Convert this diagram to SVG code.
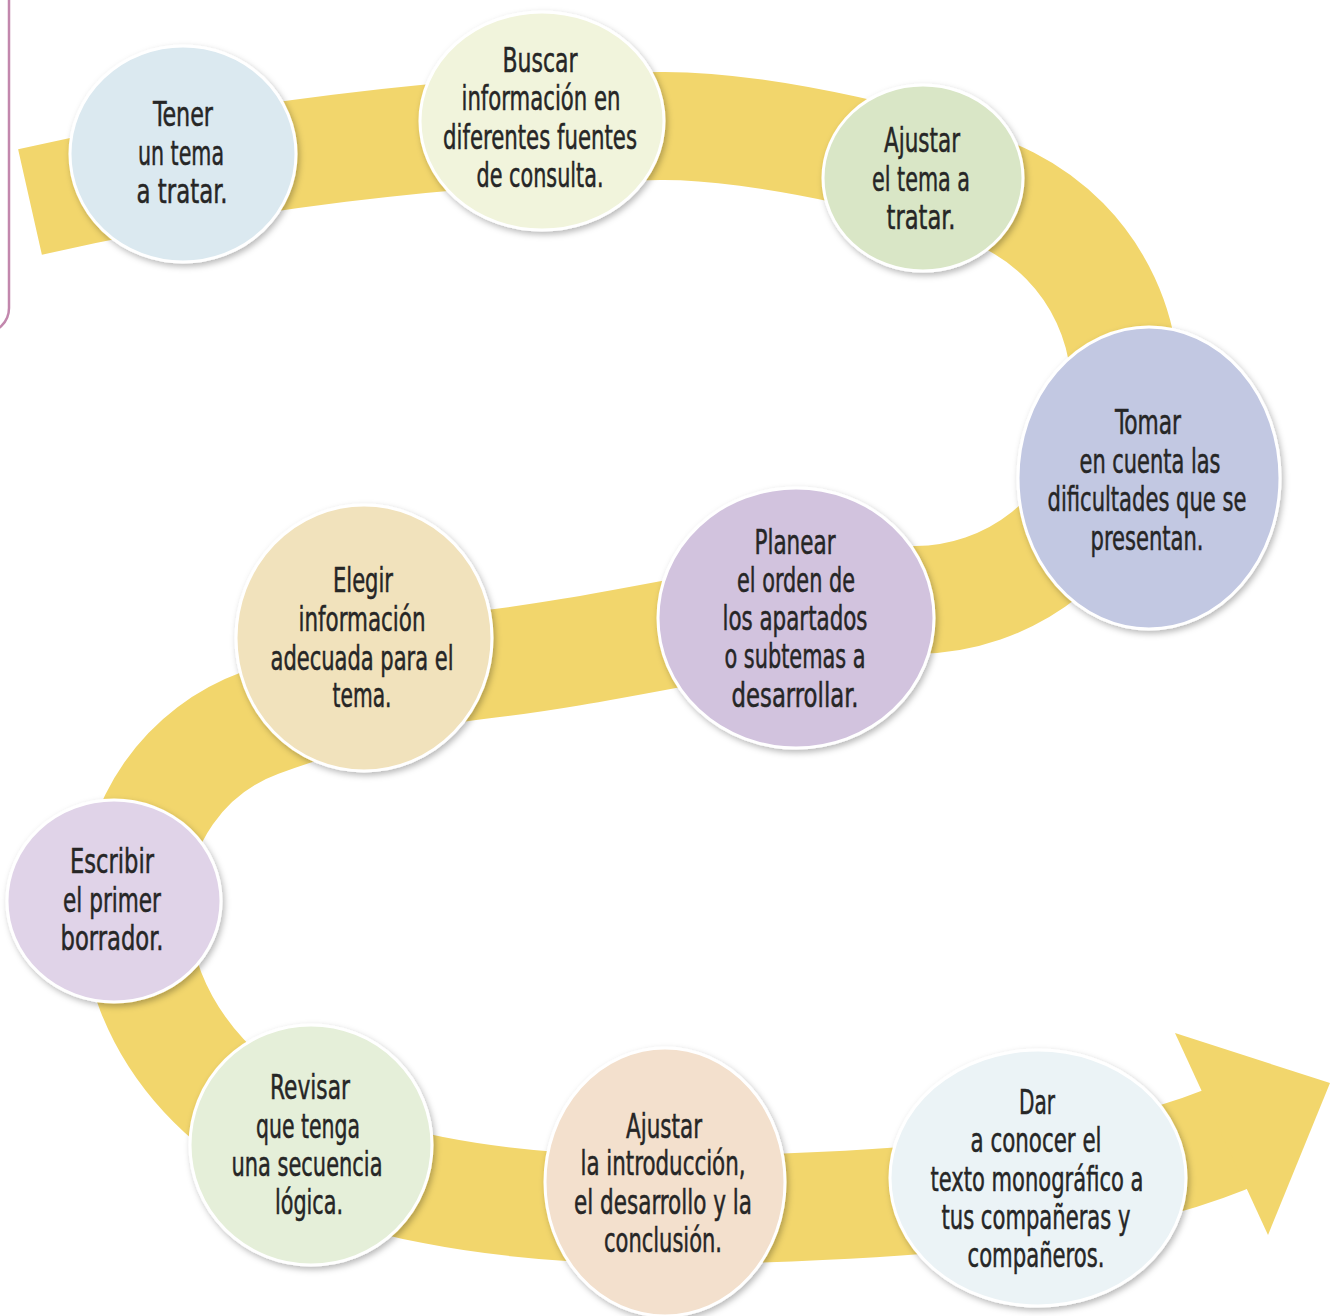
<svg xmlns="http://www.w3.org/2000/svg" width="1335" height="1316" viewBox="0 0 1335 1316">
<defs>
<filter id="sh" x="-20%" y="-20%" width="140%" height="140%">
<feDropShadow dx="2" dy="3" stdDeviation="3" flood-color="#000" flood-opacity="0.28"/>
</filter>
<style>
.band{fill:none;stroke:#f2d66c;stroke-width:108;stroke-linecap:butt;stroke-linejoin:round}
.arrow{fill:#f2d66c}
.frame{fill:none;stroke:#c287ad;stroke-width:2.5}
.node ellipse{stroke:#ffffff;stroke-width:3;filter:url(#sh)}
.node text{font-family:"DejaVu Sans Condensed","DejaVu Sans",sans-serif;font-stretch:condensed;font-size:34px;fill:#262626;stroke:#262626;stroke-width:0.5;text-anchor:middle}
</style>
</defs>
<rect width="1335" height="1316" fill="#ffffff"/>
<path class="frame" d="M9,0 V308 A25,25 0 0 1 -16,333"/>
<g id="connectors">
<path class="band" d="M30,202 C225,158 450,128 660,126 C760,125 938,165 1010,201 A211,211 0 0 1 916,600 C780,605 620,650 480,665 C420,671 312,704 260,723 A192,192 0 0 0 134,903 C134,1020 220,1150 433,1190 C560,1215 700,1212 820,1206 C960,1200 1130,1184 1245,1131"/>
<polygon class="arrow" points="1175,1033 1330,1083 1268,1235"/>
</g>
<g id="n1" class="node">
<ellipse cx="183" cy="154" rx="113" ry="108" fill="#dbe9f0"/>
<text x="183" y="126" textLength="60" lengthAdjust="spacingAndGlyphs">Tener</text>
<text x="181" y="165" textLength="86" lengthAdjust="spacingAndGlyphs">un tema</text>
<text x="182" y="203" textLength="91" lengthAdjust="spacingAndGlyphs">a tratar.</text>
</g>
<g id="n2" class="node">
<ellipse cx="542" cy="121" rx="122" ry="109" fill="#f1f4dc"/>
<text x="540" y="72" textLength="75" lengthAdjust="spacingAndGlyphs">Buscar</text>
<text x="541" y="110" textLength="159" lengthAdjust="spacingAndGlyphs">información en</text>
<text x="540" y="149" textLength="194" lengthAdjust="spacingAndGlyphs">diferentes fuentes</text>
<text x="540" y="187" textLength="127" lengthAdjust="spacingAndGlyphs">de consulta.</text>
</g>
<g id="n3" class="node">
<ellipse cx="923" cy="178" rx="100" ry="93" fill="#d9e6c6"/>
<text x="922" y="152" textLength="76" lengthAdjust="spacingAndGlyphs">Ajustar</text>
<text x="921" y="191" textLength="98" lengthAdjust="spacingAndGlyphs">el tema a</text>
<text x="921" y="229" textLength="69" lengthAdjust="spacingAndGlyphs">tratar.</text>
</g>
<g id="n4" class="node">
<ellipse cx="1149" cy="478" rx="131" ry="151" fill="#c2c8e2"/>
<text x="1148" y="434" textLength="66" lengthAdjust="spacingAndGlyphs">Tomar</text>
<text x="1150" y="473" textLength="141" lengthAdjust="spacingAndGlyphs">en cuenta las</text>
<text x="1147" y="511" textLength="199" lengthAdjust="spacingAndGlyphs">dificultades que se</text>
<text x="1147" y="550" textLength="113" lengthAdjust="spacingAndGlyphs">presentan.</text>
</g>
<g id="n5" class="node">
<ellipse cx="796" cy="618" rx="138" ry="130" fill="#d2c3de"/>
<text x="795" y="554" textLength="81" lengthAdjust="spacingAndGlyphs">Planear</text>
<text x="796" y="592" textLength="118" lengthAdjust="spacingAndGlyphs">el orden de</text>
<text x="795" y="630" textLength="145" lengthAdjust="spacingAndGlyphs">los apartados</text>
<text x="795" y="668" textLength="141" lengthAdjust="spacingAndGlyphs">o subtemas a</text>
<text x="795" y="707" textLength="127" lengthAdjust="spacingAndGlyphs">desarrollar.</text>
</g>
<g id="n6" class="node">
<ellipse cx="364" cy="638" rx="128" ry="133" fill="#f1e2bc"/>
<text x="363" y="592" textLength="60" lengthAdjust="spacingAndGlyphs">Elegir</text>
<text x="362" y="631" textLength="127" lengthAdjust="spacingAndGlyphs">información</text>
<text x="362" y="670" textLength="183" lengthAdjust="spacingAndGlyphs">adecuada para el</text>
<text x="362" y="707" textLength="59" lengthAdjust="spacingAndGlyphs">tema.</text>
</g>
<g id="n7" class="node">
<ellipse cx="114" cy="901" rx="107" ry="101" fill="#e0d3e8"/>
<text x="112" y="873" textLength="84" lengthAdjust="spacingAndGlyphs">Escribir</text>
<text x="112" y="912" textLength="98" lengthAdjust="spacingAndGlyphs">el primer</text>
<text x="112" y="950" textLength="103" lengthAdjust="spacingAndGlyphs">borrador.</text>
</g>
<g id="n8" class="node">
<ellipse cx="311" cy="1145" rx="121" ry="120" fill="#e5efd9"/>
<text x="310" y="1099" textLength="80" lengthAdjust="spacingAndGlyphs">Revisar</text>
<text x="308" y="1138" textLength="104" lengthAdjust="spacingAndGlyphs">que tenga</text>
<text x="307" y="1176" textLength="151" lengthAdjust="spacingAndGlyphs">una secuencia</text>
<text x="309" y="1214" textLength="68" lengthAdjust="spacingAndGlyphs">lógica.</text>
</g>
<g id="n9" class="node">
<ellipse cx="665" cy="1182" rx="120" ry="134" fill="#f3e0cd"/>
<text x="664" y="1138" textLength="76" lengthAdjust="spacingAndGlyphs">Ajustar</text>
<text x="663" y="1175" textLength="165" lengthAdjust="spacingAndGlyphs">la introducción,</text>
<text x="663" y="1214" textLength="178" lengthAdjust="spacingAndGlyphs">el desarrollo y la</text>
<text x="663" y="1252" textLength="118" lengthAdjust="spacingAndGlyphs">conclusión.</text>
</g>
<g id="n10" class="node">
<ellipse cx="1038" cy="1178" rx="148" ry="128" fill="#ebf3f6"/>
<text x="1037" y="1114" textLength="36" lengthAdjust="spacingAndGlyphs">Dar</text>
<text x="1036" y="1152" textLength="131" lengthAdjust="spacingAndGlyphs">a conocer el</text>
<text x="1037" y="1191" textLength="213" lengthAdjust="spacingAndGlyphs">texto monográfico a</text>
<text x="1036" y="1229" textLength="189" lengthAdjust="spacingAndGlyphs">tus compañeras y</text>
<text x="1036" y="1267" textLength="137" lengthAdjust="spacingAndGlyphs">compañeros.</text>
</g>
</svg>
